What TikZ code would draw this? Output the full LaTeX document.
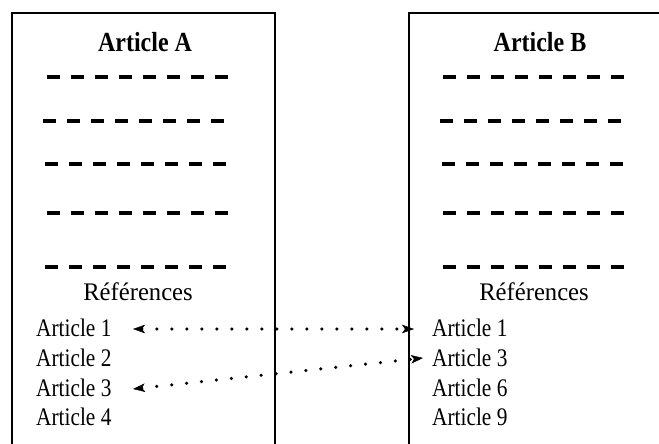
\documentclass[tikz,border=0pt]{standalone}
\usepackage{fontspec}
\setmainfont{Liberation Serif}
\usetikzlibrary{arrows.meta}
\tikzset{cite/.tip={Stealth[length=12pt, width=8.5pt, inset=3pt, line width=0.4pt]}}
\begin{document}
\begin{tikzpicture}[x=1pt,y=-1pt,
  frame/.style={line width=2.4pt},
  rule/.style={line width=3.4pt, dash pattern=on 13pt off 11pt},
  title/.style={font=\fontsize{24}{28}\selectfont\bfseries, anchor=base, inner sep=0pt, yscale=1.15, transform shape},
  item/.style={font=\fontsize{22}{26}\selectfont, anchor=base west, inner sep=0pt, xscale=0.97, yscale=1.15, transform shape},
  refs/.style={font=\fontsize{22}{26}\selectfont, anchor=base, inner sep=0pt, xscale=1.12, yscale=1.15, transform shape},
  link/.style={line width=3.5pt, line cap=round, dash pattern=on 0pt off 15pt, cite-cite}
]
\useasboundingbox (0,0) rectangle (659,444);
\clip (0,0) rectangle (659,444);
\fill[white] (0,0) rectangle (659,444);

% two article frames, open below and (for B) to the right
\draw[frame] (12,13) rectangle (275,470);
\draw[frame] (409,13) rectangle (700,470);

% titles
\node[title] (tA) at (145,52) {Article A};
\node[title] (tB) at (540,52) {Article B};

% body text placeholders
\foreach \x/\y in {47/77, 43/121, 45/164, 47/213, 45/267}
  \draw[rule] (\x,\y) -- ++(181,0);
\foreach \x/\y in {443/77, 440/121, 442/164, 443/213, 443/267}
  \draw[rule] (\x,\y) -- ++(181,0);

% reference lists
\node[refs] (rA) at (138,300) {Références};
\node[refs] (rB) at (534,300) {Références};

\node[item] (a1) at (36,336) {Article 1};
\node[item] (a2) at (36,366) {Article 2};
\node[item] (a3) at (36,396) {Article 3};
\node[item] (a4) at (36,425) {Article 4};

\node[item] (b1) at (432,336) {Article 1};
\node[item] (b3) at (432,366) {Article 3};
\node[item] (b6) at (432,396) {Article 6};
\node[item] (b9) at (432,425) {Article 9};

% citation links between the lists
\coordinate (la1) at (133,329);
\coordinate (lb1) at (414,329);
\coordinate (la3) at (133,389);
\coordinate (lb3) at (423,358);
\draw[link] (la1) -- (lb1);
\draw[link] (la3) -- (lb3);
\end{tikzpicture}
\end{document}
